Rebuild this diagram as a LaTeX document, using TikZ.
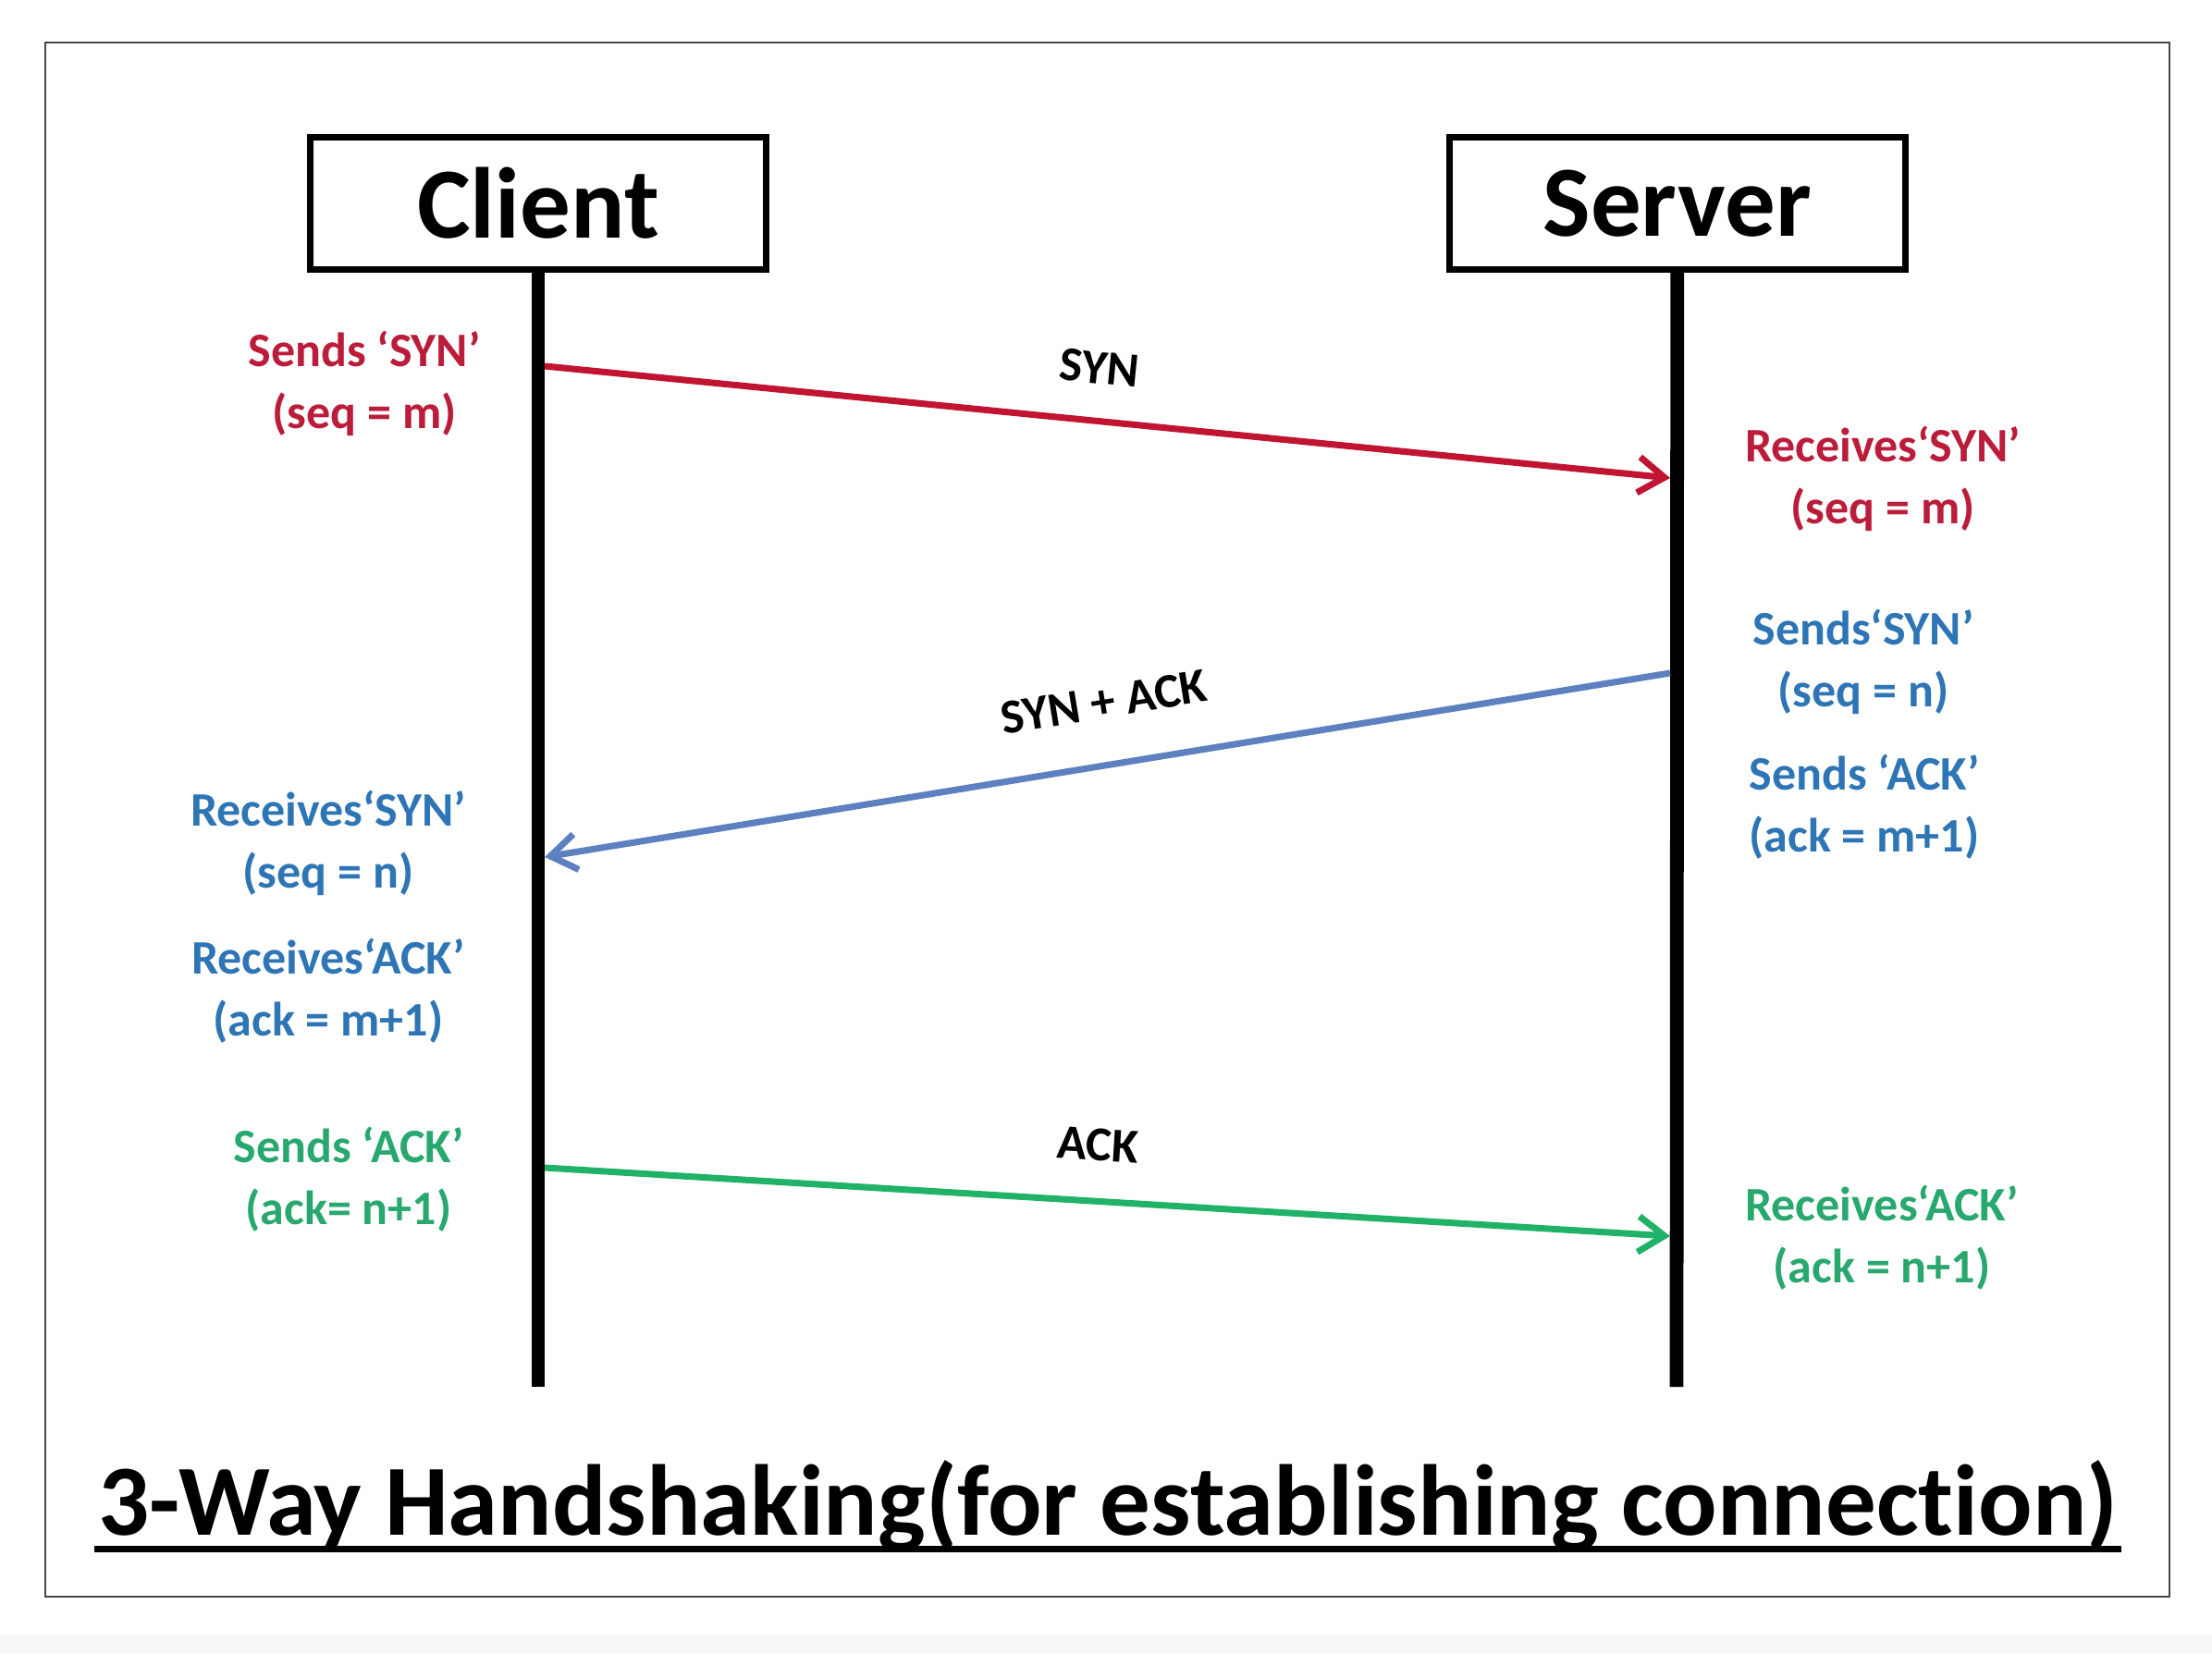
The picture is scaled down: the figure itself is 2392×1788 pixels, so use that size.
\documentclass[tikz,border=0pt]{standalone}
\usepackage{fontspec}
\setmainfont{Carlito}[Ligatures={TeX,NoCommon}]
\usetikzlibrary{positioning, arrows.meta}

\definecolor{synred}{RGB}{192,20,48}
\definecolor{txtred}{RGB}{186,28,58}
\definecolor{sablue}{RGB}{92,128,192}
\definecolor{txtblue}{RGB}{46,117,182}
\definecolor{ackgreen}{RGB}{32,178,102}
\definecolor{txtgreen}{RGB}{40,168,110}

\begin{document}
\begin{tikzpicture}[x=0.01cm, y=-0.01cm, node distance=12.31cm, on grid,
  host/.style={draw, line width=2pt, minimum width=4.93cm, minimum height=1.42cm,
    font=\fontsize{31}{37}\selectfont\bfseries},
  life/.style={line width=4.2pt},
  msg/.style={line width=2pt, -{Straight Barb[length=8pt,width=11pt]}},
  note/.style={align=center, font=\fontsize{14.8}{19}\selectfont\bfseries},
  lbl/.style={font=\fontsize{15}{18}\selectfont\bfseries, sloped, midway}]
  \useasboundingbox (0,0) rectangle (2392,1788);
  \fill[gray!7] (0,1768) rectangle (2392,1788);
  \draw[gray!55!black, line width=0.6pt] (49,46) rectangle (2346,1727);

  \node[host] (client) at (582,220) {Client};
  \node[host] (server) [right=of client] {Server};

  \coordinate (cbot) at (582,1500);
  \coordinate (sbot) at (1813,1500);
  \draw[life] (client.south) -- (cbot);
  \draw[life] (server.south) -- (sbot);

  \coordinate (syn-out) at (589,396);
  \coordinate (syn-in) at (1806,517);
  \coordinate (sa-out) at (1806,728);
  \coordinate (sa-in) at (589,927);
  \coordinate (ack-out) at (589,1263);
  \coordinate (ack-in) at (1806,1337);

  \draw[msg, synred] (syn-out) -- node[lbl, above=7pt, xshift=-4pt, black] {SYN} (syn-in);
  \draw[msg, sablue] (sa-out) -- node[lbl, above=10pt, xshift=2pt, black] {SYN + ACK} (sa-in);
  \draw[msg, ackgreen] (ack-out) -- node[lbl, above=8pt, xshift=-4pt, black] {ACK} (ack-in);

  % client side
  \node[note, text=txtred] (csyn) at (394,415) {Sends `SYN'\\(seq = m)};
  \node[note, text=txtblue] (crsyn) at (355,912) {Receives`SYN'\\(seq = n)};
  \node[note, text=txtblue] (crack) at (355,1072) {Receives`ACK'\\(ack = m+1)};
  \node[note, text=txtgreen] (cack) at (377,1276) {Sends `ACK'\\(ack= n+1)};

  % server side
  \node[note, text=txtred] (srsyn) at (2036,518) {Receives`SYN'\\(seq = m)};
  \node[note, text=txtblue] (ssyn) at (2015,716) {Sends`SYN'\\(seq = n)};
  \node[note, text=txtblue] (sack) at (2016,873) {Sends `ACK'\\(ack = m+1)};
  \node[note, text=txtgreen] (srack) at (2035,1339) {Receives`ACK'\\(ack = n+1)};

  \node[anchor=base, inner xsep=1pt, font=\fontsize{31}{37}\selectfont\bfseries] (title) at (1198,1660)
    {3-Way Handshaking(for establishing connect\kern0pt ion)};
  \draw[line width=2pt] ([yshift=-4.5pt]title.base west) -- ([yshift=-4.5pt]title.base east);
\end{tikzpicture}
\end{document}
